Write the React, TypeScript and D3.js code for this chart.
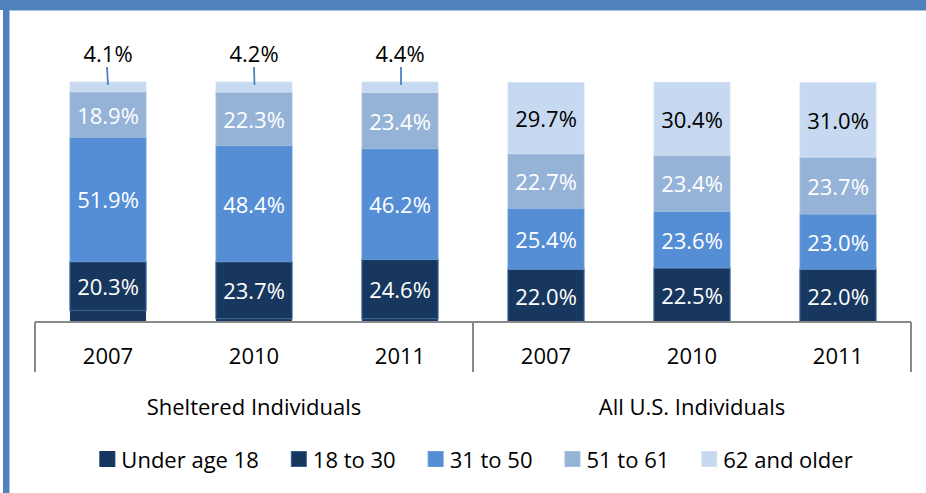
import React, { useEffect, useRef } from "react";
import * as d3 from "d3";

const years = ["2007", "2010", "2011", "2007", "2010", "2011"];
const groups = ["Sheltered Individuals", "All U.S. Individuals"];
const seriesNames = ["Under age 18", "18 to 30", "31 to 50", "51 to 61", "62 and older"];
const under18 = [4.8, 1.4, 1.4, 0, 0, 0];
const age18to30 = [20.3, 23.7, 24.6, 22.0, 22.5, 22.0];
const age31to50 = [51.9, 48.4, 46.2, 25.4, 23.6, 23.0];
const age51to61 = [18.9, 22.3, 23.4, 22.7, 23.4, 23.7];
const age62plus = [4.1, 4.2, 4.4, 29.7, 30.4, 31.0];

const W = 926;
const H = 493;
const FONT = "'Open Sans', sans-serif";

export default function App() {
  const ref = useRef<SVGSVGElement | null>(null);

  useEffect(() => {
    const svg = d3.select(ref.current);
    svg.selectAll("*").remove();

    const colors = ["#17375E", "#17375E", "#558ED5", "#95B3D7", "#C6D9F1"];
    const strokes = ["#17375E", "#3A5F8E", "#6A9BD8", "#A7C0DE", "#D2E1F4"];
    const labelColors = [null, "#fff", "#fff", "#fff", "#000"];

    const rows = years.map((y, i) => ({
      idx: String(i),
      s0: under18[i],
      s1: age18to30[i],
      s2: age31to50[i],
      s3: age51to61[i],
      s4: age62plus[i],
    }));
    const keys = ["s0", "s1", "s2", "s3", "s4"];
    const stacked = d3.stack<any>().keys(keys)(rows);

    const left = 35, right = 911, baseY = 322;
    const x = d3.scaleBand<string>()
      .domain(rows.map((r) => r.idx))
      .range([left, right])
      .paddingInner(0.479)
      .paddingOuter(0.2395);
    const y = d3.scaleLinear().domain([0, 100]).range([baseY, 82]);

    // border
    svg.append("rect").attr("x", 0).attr("y", 0).attr("width", W).attr("height", H).attr("fill", "#fff");
    svg.append("rect").attr("x", 0).attr("y", 0).attr("width", W).attr("height", 10).attr("fill", "#4F81BD");
    svg.append("rect").attr("x", 3).attr("y", 0).attr("width", 6).attr("height", H).attr("fill", "#4F81BD");
    svg.append("rect").attr("x", 9).attr("y", 10).attr("width", W).attr("height", 1).attr("fill", "#A9C1E2");
    svg.append("rect").attr("x", 9).attr("y", 10).attr("width", 1).attr("height", H).attr("fill", "#A9C1E2");

    // bars
    stacked.forEach((layer, li) => {
      svg.append("g")
        .selectAll("rect")
        .data(layer)
        .join("rect")
        .attr("x", (d: any) => x(d.data.idx)!)
        .attr("width", x.bandwidth())
        .attr("y", (d: any) => y(d[1]))
        .attr("height", (d: any) => Math.max(0, y(d[0]) - y(d[1])))
        .attr("fill", colors[li])
        .attr("stroke", li === 0 ? "none" : strokes[li])
        .attr("stroke-width", li === 1 ? 1.2 : 0.8);
    });

    // labels
    stacked.forEach((layer, li) => {
      if (li === 0) return;
      layer.forEach((d: any, i: number) => {
        const v = d[1] - d[0];
        const cx = x(d.data.idx)! + x.bandwidth() / 2;
        const txt = v.toFixed(1) + "%";
        if (li === 4 && i < 3) {
          const ty = y(d[1]) - 29;
          svg.append("text")
            .attr("x", cx)
            .attr("y", ty)
            .attr("text-anchor", "middle")
            .attr("dominant-baseline", "central")
            .attr("font-family", FONT)
            .attr("font-size", 22)
            .attr("fill", "#000")
            .text(txt);
          svg.append("line")
            .attr("x1", cx - 1 + i)
            .attr("x2", cx + i * 0.5)
            .attr("y1", ty + 14)
            .attr("y2", y(d[1]) + 3)
            .attr("stroke", "#4F81BD")
            .attr("stroke-width", 1.8);
        } else {
          const cy = (y(d[0]) + y(d[1])) / 2;
          svg.append("text")
            .attr("x", cx)
            .attr("y", cy)
            .attr("text-anchor", "middle")
            .attr("dominant-baseline", "central")
            .attr("font-family", FONT)
            .attr("font-size", 22)
            .attr("fill", labelColors[li]!)
            .text(txt);
        }
      });
    });

    // category axis
    const axisColor = "#898989";
    svg.append("line").attr("x1", left).attr("x2", right).attr("y1", baseY).attr("y2", baseY)
      .attr("stroke", axisColor).attr("stroke-width", 2);
    [left, (left + right) / 2, right].forEach((xx) => {
      svg.append("line").attr("x1", xx).attr("x2", xx).attr("y1", baseY).attr("y2", 372)
        .attr("stroke", axisColor).attr("stroke-width", 2);
    });
    rows.forEach((r, i) => {
      svg.append("text")
        .attr("x", x(r.idx)! + x.bandwidth() / 2)
        .attr("y", 355)
        .attr("text-anchor", "middle")
        .attr("dominant-baseline", "central")
        .attr("font-family", FONT)
        .attr("font-size", 22)
        .attr("fill", "#000")
        .text(years[i]);
    });
    const mid = (left + right) / 2;
    groups.forEach((g, gi) => {
      svg.append("text")
        .attr("x", gi === 0 ? (left + mid) / 2 : (mid + right) / 2)
        .attr("y", 406)
        .attr("text-anchor", "middle")
        .attr("dominant-baseline", "central")
        .attr("font-family", FONT)
        .attr("font-size", 22)
        .attr("fill", "#000")
        .text(g);
    });

    // legend
    const lg = svg.append("g");
    let cur = 0;
    seriesNames.forEach((name, i) => {
      lg.append("rect")
        .attr("x", cur + 0.5)
        .attr("y", 451.5)
        .attr("width", 15)
        .attr("height", 15)
        .attr("fill", colors[i])
        .attr("stroke", strokes[i])
        .attr("stroke-width", 1);
      const t = lg.append("text")
        .attr("x", cur + 22)
        .attr("y", 459)
        .attr("dominant-baseline", "central")
        .attr("font-family", FONT)
        .attr("font-size", 22)
        .attr("fill", "#000")
        .text(name);
      const w = (t.node() as SVGTextElement).getComputedTextLength();
      cur += 22 + w + 32;
    });
    const total = cur - 32;
    lg.attr("transform", `translate(${476 - total / 2},0)`);
  }, []);

  return (
    <svg
      ref={ref}
      width={W}
      height={H}
      style={{ position: "absolute", left: 0, top: 0, display: "block" }}
    />
  );
}
